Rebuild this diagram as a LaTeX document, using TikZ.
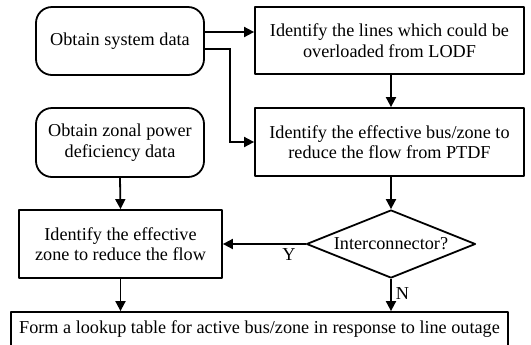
\documentclass[tikz,border=0pt]{standalone}
\usepackage{fontspec}
\setmainfont{Liberation Serif}
\usepackage{tikz}
\usetikzlibrary{calc,arrows.meta,shapes.geometric}
\tikzset{
  base/.style={draw=black, line width=0.9pt, line join=round, font=\fontsize{9.1}{10.2}\selectfont, align=center, inner sep=0pt},
  box/.style={base, rectangle},
  rbox/.style={base, rectangle, rounded corners=8pt},
  cond/.style={base, diamond, aspect=2.5, minimum width=84.5pt, minimum height=34pt},
  arr/.style={draw=black, line width=0.9pt, -{Triangle[length=5pt,width=5pt]}},
  lab/.style={font=\fontsize{9.1}{10.2}\selectfont, inner sep=2pt},
}
\begin{document}
\begin{tikzpicture}[x=0.5pt,y=-0.5pt]
  \useasboundingbox (0,0) rectangle (531,344);

  \node[rbox, minimum width=84pt, minimum height=34pt] (sys) at (120,41) {Obtain system data};
  \node[rbox, minimum width=84pt, minimum height=34.5pt] (zon) at (120,142.5) {Obtain zonal power\\deficiency data};

  \node[box, minimum width=134.5pt, minimum height=33.5pt] (lodf) at (389.5,40.5) {Identify the lines which could be\\overloaded from LODF};
  \node[box, minimum width=134.5pt, minimum height=34pt] (ptdf) at (389.5,142) {Identify the effective bus/zone to\\reduce the flow from PTDF};

  \node[cond] (ic) at (391,244) {Interconnector?};
  \node[box, minimum width=101.5pt, minimum height=34pt] (eff) at (120.5,244) {Identify the effective\\zone to reduce the flow};

  \node[box, minimum width=248.5pt, minimum height=17pt] (tab) at (259.5,329) {Form a lookup table for active bus/zone in response to line outage};

  % connectors
  \coordinate (s1) at ($(sys.east)+(0,-9)$);
  \coordinate (s2) at ($(sys.east)+(0,8)$);
  \coordinate (bend) at (230,49);
  \draw[arr] (s1) -- (s1 -| lodf.west);
  \draw[arr] (s2) -- (bend) -- (bend |- ptdf.west) -- (ptdf.west);
  \draw[arr] (lodf.south -| ic.north) -- (ptdf.north -| ic.north);
  \draw[arr] (ptdf.south -| ic.north) -- (ic.north);
  \draw[arr] (zon.south) -- (eff.north);
  \draw[arr] (ic.west) -- node[lab, below, pos=0.2] {Y} (eff.east);
  \draw[arr] (ic.south) -- node[lab, right, pos=0.45] {N} (ic.south |- tab.north);
  \draw[arr] (eff.south) -- (eff.south |- tab.north);
\end{tikzpicture}
\end{document}
